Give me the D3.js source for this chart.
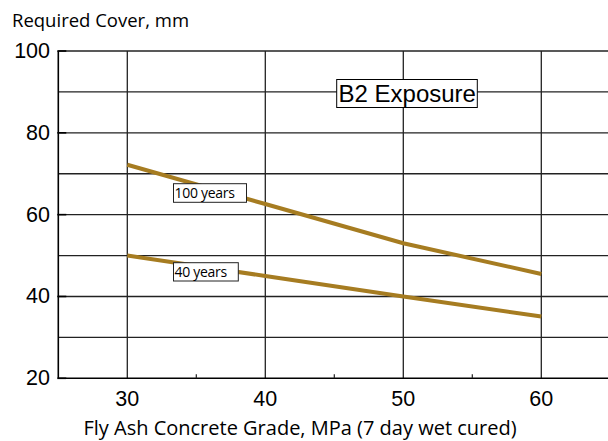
<!DOCTYPE html>
<html>
<head>
<meta charset="utf-8">
<script src="https://cdn.jsdelivr.net/npm/d3@7"></script>
<style>
  body { margin: 0; background: #fff; }
  svg { display: block; }
</style>
</head>
<body>
<svg id="chart"></svg>
<script>
// chart values
const grades = [30, 40, 50, 60];
const cover100 = [72.2, 62.6, 53, 45.5];
const cover40 = [50, 45, 40, 35.1];
const seriesNames = ["100 years", "40 years"];
const yTicks = [20, 40, 60, 80, 100];
const yGrid = [30, 40, 50, 60, 70, 80, 90, 100];
const xTicks = [30, 40, 50, 60];
const xMinor = [35, 45, 55];

const width = 608, height = 441;
const svg = d3.select("#chart").attr("width", width).attr("height", height);

const x = d3.scaleLinear().domain([25, 65]).range([58.3, 610.3]);
const y = d3.scaleLinear().domain([20, 100]).range([378.3, 51]);

// gridlines
svg.append("g")
    .selectAll("line")
    .data(yGrid)
    .enter().append("line")
    .attr("x1", x(25)).attr("x2", width)
    .attr("y1", d => y(d)).attr("y2", d => y(d))
    .attr("stroke", "#222").attr("stroke-width", 1.3);

svg.append("g")
    .selectAll("line")
    .data(xTicks)
    .enter().append("line")
    .attr("x1", d => x(d)).attr("x2", d => x(d))
    .attr("y1", y(100)).attr("y2", y(20))
    .attr("stroke", "#222").attr("stroke-width", 1.3);

// axes lines
svg.append("line")
    .attr("x1", x(25)).attr("x2", x(25))
    .attr("y1", y(100)).attr("y2", y(20))
    .attr("stroke", "#000").attr("stroke-width", 1.6);
svg.append("line")
    .attr("x1", x(25)).attr("x2", width)
    .attr("y1", y(20)).attr("y2", y(20))
    .attr("stroke", "#000").attr("stroke-width", 1.6);

// y tick marks sticking out a bit
svg.append("g")
    .selectAll("line")
    .data(yTicks)
    .enter().append("line")
    .attr("x1", x(25) - 1).attr("x2", x(25) + 8)
    .attr("y1", d => y(d)).attr("y2", d => y(d))
    .attr("stroke", "#000").attr("stroke-width", 1.6);

// minor x ticks
svg.append("g")
    .selectAll("line")
    .data(xMinor)
    .enter().append("line")
    .attr("x1", d => x(d)).attr("x2", d => x(d))
    .attr("y1", y(20)).attr("y2", y(20) - 4)
    .attr("stroke", "#222").attr("stroke-width", 1.2);

// tick labels
svg.append("g")
    .selectAll("text")
    .data(yTicks)
    .enter().append("text")
    .attr("x", 50)
    .attr("y", d => y(d) + 7)
    .attr("text-anchor", "end")
    .style("font-family", "Liberation Sans, Arial, sans-serif")
    .style("font-size", "21.5px")
    .text(d => d);

svg.append("g")
    .selectAll("text")
    .data(xTicks)
    .enter().append("text")
    .attr("x", d => x(d))
    .attr("y", 405.5)
    .attr("text-anchor", "middle")
    .style("font-family", "Liberation Sans, Arial, sans-serif")
    .style("font-size", "21.5px")
    .text(d => d);

// axis titles
svg.append("text")
    .attr("x", 12).attr("y", 26.5)
    .style("font-family", "Open Sans, Noto Sans, sans-serif")
    .style("font-size", "18.5px")
    .text("Required Cover, mm");

svg.append("text")
    .attr("x", 300).attr("y", 435)
    .attr("text-anchor", "middle")
    .style("font-family", "Open Sans, Noto Sans, sans-serif")
    .style("font-size", "20px")
    .text("Fly Ash Concrete Grade, MPa (7 day wet cured)");

// series lines
const line = d3.line()
    .x((d, i) => x(grades[i]))
    .y(d => y(d));

svg.append("g")
    .selectAll("path")
    .data([cover100, cover40])
    .enter().append("path")
    .attr("d", line)
    .attr("fill", "none")
    .attr("stroke", "#a67c21")
    .attr("stroke-width", 4);

// series labels in boxes
const labelPos = [{x: 173.5, y: 183.7, w: 73, h: 18.6}, {x: 173.5, y: 262.7, w: 64.8, h: 18.3}];
const lab = svg.append("g")
    .selectAll("g")
    .data(seriesNames)
    .enter().append("g");
lab.append("rect")
    .attr("x", (d, i) => labelPos[i].x)
    .attr("y", (d, i) => labelPos[i].y)
    .attr("width", (d, i) => labelPos[i].w)
    .attr("height", (d, i) => labelPos[i].h)
    .attr("fill", "#fff")
    .attr("stroke", "#222").attr("stroke-width", 1);
lab.append("text")
    .attr("x", (d, i) => labelPos[i].x + 1)
    .attr("y", (d, i) => labelPos[i].y + 14.5)
    .style("font-family", "Open Sans, Noto Sans, sans-serif")
    .style("font-size", "14px")
    .style("letter-spacing", "-0.3px")
    .text(d => d);

// exposure box
svg.append("rect")
    .attr("x", 336.7).attr("y", 79.5)
    .attr("width", 140.6).attr("height", 28)
    .attr("fill", "#fff")
    .attr("stroke", "#000").attr("stroke-width", 1);
svg.append("text")
    .attr("x", 338.5).attr("y", 101.5)
    .style("font-family", "Liberation Sans, Arial, sans-serif")
    .style("font-size", "24px")
    .text("B2 Exposure");
</script>
</body>
</html>
